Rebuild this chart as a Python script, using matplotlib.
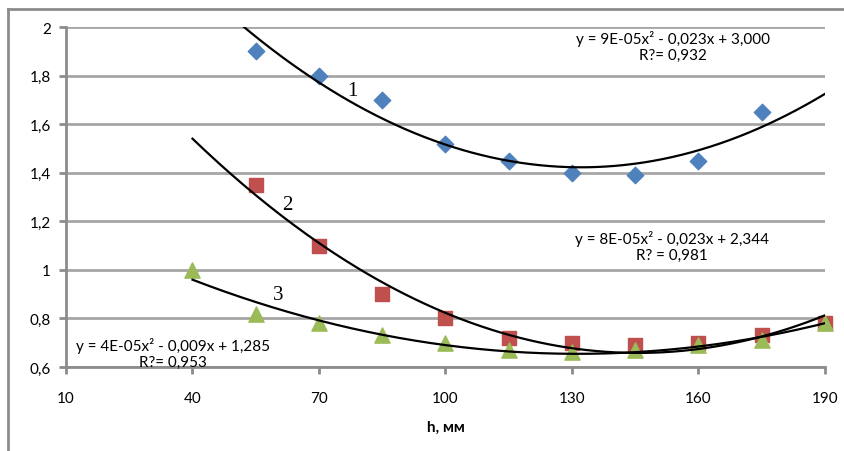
import numpy as np
import matplotlib
matplotlib.use("Agg")
import matplotlib.pyplot as plt
from matplotlib.lines import Line2D

plt.rcParams['font.family'] = ['Lato', 'DejaVu Sans']

# data
h1 = [55, 70, 85, 100, 115, 130, 145, 160, 175]
y1 = [1.90, 1.80, 1.70, 1.52, 1.45, 1.40, 1.39, 1.45, 1.65]

h2 = [55, 70, 85, 100, 115, 130, 145, 160, 175, 190]
y2 = [1.35, 1.10, 0.90, 0.80, 0.72, 0.70, 0.69, 0.70, 0.73, 0.78]

h3 = [40, 55, 70, 85, 100, 115, 130, 145, 160, 175, 190]
y3 = [1.00, 0.82, 0.78, 0.73, 0.70, 0.67, 0.66, 0.67, 0.69, 0.71, 0.78]

eq1 = "y = 9E-05x\u00b2 - 0,023x + 3,000\nR?= 0,932"
eq2 = "y = 8E-05x\u00b2 - 0,023x + 2,344\nR? = 0,981"
eq3 = "y = 4E-05x\u00b2 - 0,009x + 1,285\nR?= 0,953"

xticks = [10, 40, 70, 100, 130, 160, 190]
yticks = [0.6, 0.8, 1.0, 1.2, 1.4, 1.6, 1.8, 2.0]
ylabels = ["0,6", "0,8", "1", "1,2", "1,4", "1,6", "1,8", "2"]

fig = plt.figure(figsize=(8.45, 4.52), dpi=100)
ax = fig.add_axes([66/845, 1-368/452, (825-66)/845, (368-28)/452])

# outer chart frame (left and top edges visible)
fig.add_artist(Line2D([8/845, 8/845], [0, 1-10/452], color='#8c8c8c', lw=2))
fig.add_artist(Line2D([8/845, 1], [1-10/452, 1-10/452], color='#8c8c8c', lw=2))

ax.set_xlim(10, 190)
ax.set_ylim(0.6, 2.0)
ax.set_xticks(xticks)
ax.set_yticks(yticks)
ax.set_yticklabels(ylabels)
ax.tick_params(axis='both', colors='#8c8c8c', labelcolor='black', labelsize=11,
               width=2, length=5)
ax.tick_params(axis='x', pad=12)
ax.tick_params(axis='y', pad=6)
ax.grid(axis='y', color='#a6a6a6', lw=2)
ax.set_axisbelow(True)
for s in ['top', 'right']:
    ax.spines[s].set_visible(False)
for s in ['left', 'bottom']:
    ax.spines[s].set_color('#8c8c8c')
    ax.spines[s].set_linewidth(2)

ax.scatter(h1, y1, marker='D', s=70, color='#4F81BD', zorder=3, clip_on=False)
ax.scatter(h2, y2, marker='s', s=110, color='#C0504D', zorder=3, clip_on=False)
ax.scatter(h3, y3, marker='^', s=120, color='#9BBB59', zorder=3, clip_on=False)

# polynomial trendlines
xx = np.linspace(40, 190, 200)
for hx, yy in [(h1, y1), (h2, y2), (h3, y3)]:
    c = np.polyfit(hx, yy, 2)
    ax.plot(xx, np.polyval(c, xx), color='black', lw=1.6, zorder=4)

ax.text(673/845, 1-47/452, eq1, transform=fig.transFigure, ha='center', va='center',
        fontsize=11, linespacing=1.15)
ax.text(672/845, 1-247/452, eq2, transform=fig.transFigure, ha='center', va='center',
        fontsize=11, linespacing=1.15)
ax.text(173/845, 1-354/452, eq3, transform=fig.transFigure, ha='center', va='center',
        fontsize=11, linespacing=1.15)

for lab, xp, yp in [("1", 77.8, 1.737), ("2", 62.4, 1.27), ("3", 60.3, 0.90)]:
    ax.text(xp, yp, lab, fontsize=15, family='Liberation Serif', ha='center', va='center')

ax.set_xlabel("h, мм", fontsize=11, fontweight='bold', labelpad=11)

fig.savefig("out.png", dpi=100)
